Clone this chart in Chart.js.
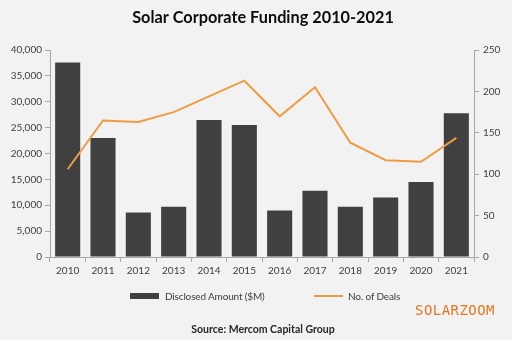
<!DOCTYPE html>
<html><head><meta charset="utf-8">
<script src="https://cdn.jsdelivr.net/npm/chart.js@4/dist/chart.umd.min.js"></script>
<style>
html,body{margin:0;padding:0;background:#fff;}
#wrap{position:absolute;left:0;top:0;width:512px;height:340px;background:#f2f2f2;font-family:Lato,"Open Sans",sans-serif;color:#404040;}
#c{position:absolute;left:0;top:0;}
.sw{position:absolute;}
.lt{position:absolute;font-size:10px;line-height:12px;white-space:nowrap;color:#404040;letter-spacing:-0.15px;}
#sz{position:absolute;left:415px;top:301px;font-family:"DejaVu Sans Mono",monospace;font-size:14px;line-height:18px;color:#e5761f;letter-spacing:0.45px;}
#src{position:absolute;left:0;width:526px;top:322px;text-align:center;font-weight:bold;font-size:10.5px;line-height:14px;color:#262626;}
</style></head>
<body>
<div id="wrap">
<canvas id="c" width="512" height="340"></canvas>
<div class="sw" style="left:130px;top:293px;width:29px;height:6px;background:#404040"></div>
<div class="lt" style="left:165px;top:290px">Disclosed Amount ($M)</div>
<div class="sw" style="left:314px;top:295px;width:29px;height:2px;background:#ee9c42"></div>
<div class="lt" style="left:348px;top:290px">No. of Deals</div>
<div id="sz">SOLARZOOM</div>
<div id="src">Source: Mercom Capital Group</div>
</div>
<script>
const years = ["2010","2011","2012","2013","2014","2015","2016","2017","2018","2019","2020","2021"];
const disclosedAmount = [37600, 23000, 8600, 9700, 26500, 25500, 9000, 12800, 9700, 11500, 14500, 27800];
const numberOfDeals = [106, 165, 163, 175, 194, 213, 170, 205, 138, 117, 115, 144];
const leftTicks = [0, 5000, 10000, 15000, 20000, 25000, 30000, 35000, 40000];
const rightTicks = [0, 50, 100, 150, 200, 250];

const tickFont = {family: 'Lato, "Open Sans", sans-serif', size: 10};
const axisGray = '#a6a6a6';

const shiftTitle = {
  id: 'shiftTitle',
  afterLayout(chart) { if (chart.titleBlock) { chart.titleBlock.left += 14; } }
};

new Chart(document.getElementById('c'), {
  data: {
    labels: years,
    datasets: [
      {type: 'line', label: 'No. of Deals', data: numberOfDeals, yAxisID: 'y1', borderColor: '#ee9c42', borderWidth: 2, pointRadius: 0, tension: 0, fill: false, order: 0},
      {type: 'bar', label: 'Disclosed Amount ($M)', data: disclosedAmount, yAxisID: 'y', backgroundColor: '#404040', barPercentage: 0.71, categoryPercentage: 1, order: 1}
    ]
  },
  plugins: [shiftTitle],
  options: {
    responsive: false,
    animation: false,
    devicePixelRatio: 1,
    layout: {padding: {left: 0, right: 0, top: 0, bottom: 0}},
    plugins: {
      legend: {display: false},
      tooltip: {enabled: false},
      title: {
        display: true,
        text: 'Solar Corporate Funding 2010-2021',
        color: '#0d0d0d',
        font: {family: 'Lato, "Open Sans", sans-serif', size: 16.3, weight: 'bold'},
        padding: {top: 8, bottom: 22.5}
      }
    },
    scales: {
      x: {
        grid: {display: true, drawOnChartArea: false, drawTicks: true, tickLength: 5, color: axisGray, offset: true},
        border: {display: true, color: axisGray},
        ticks: {font: tickFont, color: '#404040', padding: 3, maxRotation: 0},
        afterFit: s => { s.height = 83; }
      },
      y: {
        position: 'left',
        min: 0, max: 40000,
        afterBuildTicks: s => { s.ticks = leftTicks.map(v => ({value: v})); },
        grid: {display: true, drawOnChartArea: false, drawTicks: true, tickLength: 5, color: axisGray},
        border: {display: true, color: axisGray},
        ticks: {font: tickFont, color: '#404040', padding: 3, callback: v => v.toLocaleString('en-US')},
        afterFit: s => { s.width = 50; }
      },
      y1: {
        position: 'right',
        min: 0, max: 250,
        afterBuildTicks: s => { s.ticks = rightTicks.map(v => ({value: v})); },
        grid: {display: true, drawOnChartArea: false, drawTicks: true, tickLength: 5, color: axisGray},
        border: {display: true, color: axisGray},
        ticks: {font: tickFont, color: '#404040', padding: 4},
        afterFit: s => { s.width = 38; }
      }
    }
  }
});
</script>
</body></html>
